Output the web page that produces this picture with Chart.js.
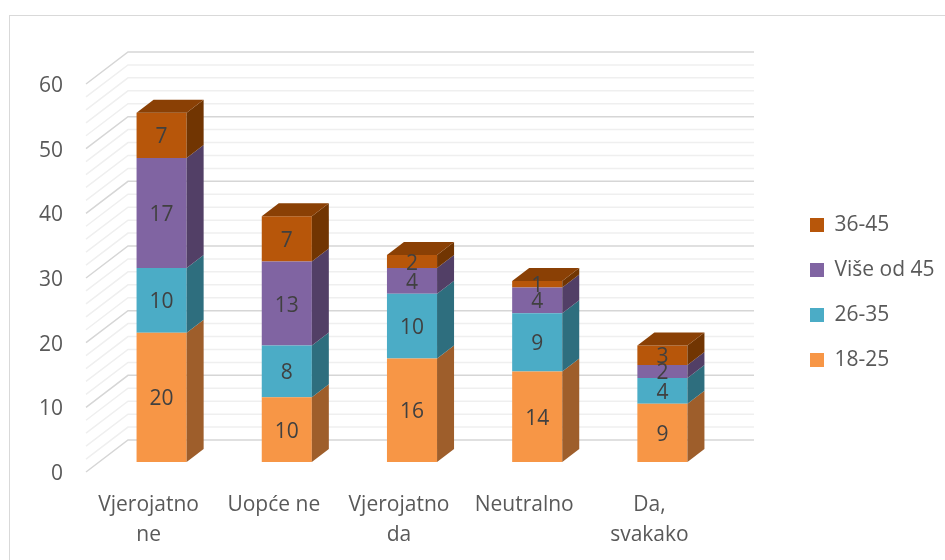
<!DOCTYPE html>
<html>
<head>
<meta charset="utf-8">
<script src="https://cdn.jsdelivr.net/npm/chart.js@4"></script>
<style>
  html, body { margin: 0; padding: 0; background: #fff; }
</style>
</head>
<body>
<canvas id="chart" width="945" height="560"></canvas>
<script>
// podaci
const categories = [['Vjerojatno', 'ne'], 'Uopće ne', ['Vjerojatno', 'da'], 'Neutralno', ['Da,', 'svakako']];
const age18_25 = [20, 10, 16, 14, 9];
const age26_35 = [10, 8, 10, 9, 4];
const over45 = [17, 13, 4, 4, 2];
const age36_45 = [7, 7, 2, 1, 3];
const yTicks = [0, 10, 20, 30, 40, 50, 60];

const font = 'Open Sans';
const depthX = 17, depthY = -13;      // dubina stupca
const wallX = 29, wallY = -22;        // stražnji zid
const floorX = -13, floorY = 10;      // prednji rub poda

// front, side, top
const palette = [
  ['#F79646', '#9E5E2B', '#C4733A'],
  ['#4BACC6', '#2E6E7E', '#3A8A9F'],
  ['#8064A2', '#523F66', '#64507F'],
  ['#B7560A', '#713502', '#8A4005']
];

const grid3d = {
  id: 'grid3d',
  beforeDraw(chart) {
    const c = chart.ctx;
    c.save();
    c.strokeStyle = '#D9D9D9';
    c.lineWidth = 1;
    c.strokeRect(9.5, 15.5, 1000, 1000);
    c.restore();
  },
  beforeDatasetsDraw(chart) {
    const c = chart.ctx, y = chart.scales.y, a = chart.chartArea;
    c.save();
    c.lineWidth = 1.5;
    for (let v = yTicks[0]; v <= yTicks[yTicks.length - 1]; v += 2) {
      const py = y.getPixelForValue(v);
      c.strokeStyle = v % 10 === 0 ? '#D6D6D6' : '#EFEFEF';
      c.beginPath();
      c.moveTo(a.left + floorX, py + floorY);
      c.lineTo(a.left + wallX, py + wallY);
      c.lineTo(a.right + wallX, py + wallY);
      c.stroke();
    }
    c.restore();
  },
  afterDatasetsDraw(chart) {
    const c = chart.ctx;
    const n = chart.data.datasets.length;
    c.save();
    chart.data.datasets.forEach((ds, di) => {
      const meta = chart.getDatasetMeta(di);
      meta.data.forEach((el, i) => {
        const l = el.x - el.width / 2, r = el.x + el.width / 2;
        const top = el.y, bot = el.base;
        // bok
        c.fillStyle = palette[di][1];
        c.beginPath();
        c.moveTo(r, bot);
        c.lineTo(r + depthX, bot + depthY);
        c.lineTo(r + depthX, top + depthY);
        c.lineTo(r, top);
        c.closePath();
        c.fill();
        if (di === n - 1) {
          c.fillStyle = palette[di][2];
          c.beginPath();
          c.moveTo(l, top);
          c.lineTo(l + depthX, top + depthY);
          c.lineTo(r + depthX, top + depthY);
          c.lineTo(r, top);
          c.closePath();
          c.fill();
        }
      });
    });
    // oznake vrijednosti
    c.fillStyle = '#404040';
    c.font = '21px "' + font + '"';
    c.textAlign = 'center';
    c.textBaseline = 'middle';
    chart.data.datasets.forEach((ds, di) => {
      chart.getDatasetMeta(di).data.forEach((el, i) => {
        c.fillText(String(ds.data[i]), el.x, (el.y + el.base) / 2 + 2);
      });
    });
    c.restore();
  },
  beforeInit(chart) {
    const lg = chart.legend;
    if (!lg) return;
    const fit = lg.fit;
    lg.fit = function () {
      fit.call(this);
      this.width = 220;
    };
  },
  afterLayout(chart) {
    const lg = chart.legend;
    if (!lg) return;
    lg.left = 786; lg.right = 945;
    lg.top = 190.5; lg.bottom = 560;
  }
};

new Chart(document.getElementById('chart'), {
  type: 'bar',
  data: {
    labels: categories,
    datasets: [
      { label: '18-25', data: age18_25, backgroundColor: palette[0][0] },
      { label: '26-35', data: age26_35, backgroundColor: palette[1][0] },
      { label: 'Više od 45', data: over45, backgroundColor: palette[2][0] },
      { label: '36-45', data: age36_45, backgroundColor: palette[3][0] }
    ]
  },
  options: {
    responsive: false,
    animation: false,
    layout: { padding: { top: 74, left: 0, right: 0, bottom: 0 } },
    datasets: { bar: { barPercentage: 0.4, categoryPercentage: 1, borderWidth: 0 } },
    plugins: {
      legend: {
        position: 'right',
        align: 'start',
        reverse: true,
        labels: {
          boxWidth: 14, boxHeight: 14, padding: 24,
          color: '#595959',
          font: { family: font, size: 21 }
        }
      },
      tooltip: { enabled: false }
    },
    scales: {
      x: {
        stacked: true,
        grid: { display: false, drawTicks: false },
        border: { display: false },
        ticks: {
          color: '#595959',
          font: { family: font, size: 21, lineHeight: '30px' },
          padding: 28, labelOffset: floorX,
          autoSkip: false, maxRotation: 0
        },
        afterFit(s) { s.height = 98; }
      },
      y: {
        stacked: true,
        min: yTicks[0], max: yTicks[yTicks.length - 1],
        grid: { display: false, drawTicks: false },
        border: { display: false },
        ticks: {
          stepSize: yTicks[1] - yTicks[0],
          color: '#595959',
          font: { family: font, size: 21 },
          padding: 36, labelOffset: floorY + 2
        },
        afterFit(s) { s.width = 99; }
      }
    }
  },
  plugins: [grid3d]
});
</script>
</body>
</html>
